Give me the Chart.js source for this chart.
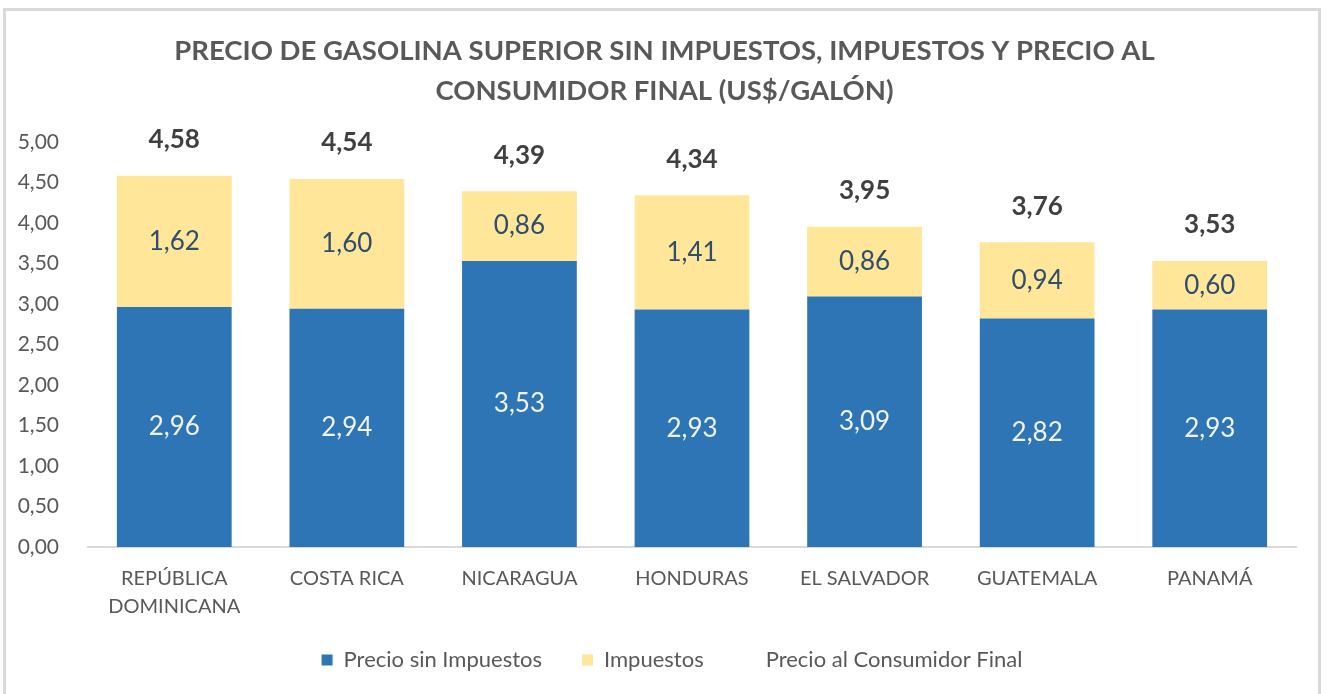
<!DOCTYPE html>
<html>
<head>
<meta charset="utf-8">
<script src="https://cdn.jsdelivr.net/npm/chart.js@4"></script>
<style>
    html, body { margin: 0; padding: 0; background: #fff; }
    #wrap { position: absolute; left: 0; top: 0; width: 1329px; height: 694px; }
    #frame { position: absolute; left: 3px; top: 8px; width: 1318px; height: 700px; border: 3px solid #D9D9D9; box-sizing: border-box; }
</style>
</head>
<body>
<div id="frame"></div>
<div id="wrap"><canvas id="chart"></canvas></div>
<script>
// Chart data
const countries = [['REPÚBLICA', 'DOMINICANA'], 'COSTA RICA', 'NICARAGUA', 'HONDURAS', 'EL SALVADOR', 'GUATEMALA', 'PANAMÁ'];
const precioSinImpuestos = [2.96, 2.94, 3.53, 2.93, 3.09, 2.82, 2.93];
const impuestos = [1.62, 1.60, 0.86, 1.41, 0.86, 0.94, 0.60];
const precioFinal = [4.58, 4.54, 4.39, 4.34, 3.95, 3.76, 3.53];

const FONT = 'Lato, "Open Sans", sans-serif';
const fmt = v => v.toFixed(2).replace('.', ',');

// Draws the value labels on the bars and the totals above them
const valueLabels = {
    id: 'valueLabels',
    afterLayout(chart) {
        // centre title on the whole picture and move legend down
        const t = chart.titleBlock;
        if (t) { t.left += 11.5; t.right += 11.5; }
        const lg = chart.legend;
        if (lg) {
            lg.left += 19; lg.right += 19;
            lg.top = 609; lg.bottom = 694;
        }
    },
    afterDatasetsDraw(chart) {
        const ctx = chart.ctx;
        ctx.save();
        ctx.textAlign = 'center';
        ctx.textBaseline = 'middle';
        chart.data.datasets.forEach((ds, i) => {
            const meta = chart.getDatasetMeta(i);
            meta.data.forEach((el, j) => {
                const v = ds.data[j];
                if (i === 2) {
                    ctx.font = 'bold 26px ' + FONT;
                    ctx.fillStyle = '#404040';
                    ctx.fillText(fmt(v), el.x, el.y - 36);
                } else {
                    ctx.font = '26px ' + FONT;
                    ctx.fillStyle = i === 0 ? '#F2F2F2' : '#2F4E6E';
                    ctx.fillText(fmt(v), el.x, (el.y + el.base) / 2);
                }
            });
        });
        ctx.restore();
    }
};

new Chart(document.getElementById('chart'), {
    type: 'bar',
    data: {
        labels: countries,
        datasets: [{
            label: 'Precio sin Impuestos',
            data: precioSinImpuestos,
            backgroundColor: '#2E75B6',
            stack: 'precio',
            categoryPercentage: 1,
            barPercentage: 0.665
        }, {
            label: 'Impuestos',
            data: impuestos,
            backgroundColor: '#FFE699',
            stack: 'precio',
            categoryPercentage: 1,
            barPercentage: 0.665
        }, {
            label: 'Precio al Consumidor Final',
            type: 'line',
            data: precioFinal,
            stack: 'total',
            showLine: false,
            pointRadius: 0,
            pointHoverRadius: 0,
            borderColor: 'rgba(0,0,0,0)',
            backgroundColor: 'rgba(0,0,0,0)'
        }]
    },
    options: {
        responsive: true,
        maintainAspectRatio: false,
        animation: false,
        layout: {
            padding: { top: 0, left: 10, right: 33, bottom: 14 }
        },
        scales: {
            x: {
                stacked: true,
                grid: { display: false, drawTicks: false },
                border: { display: true, color: '#D9D9D9', width: 2 },
                ticks: {
                    color: '#595959',
                    font: { family: FONT, size: 20, lineHeight: 1.4 },
                    padding: 18,
                    maxRotation: 0,
                    autoSkip: false
                },
                afterFit: scale => { scale.height = 93; }
            },
            y: {
                stacked: true,
                min: 0,
                max: 5,
                grid: { display: false },
                border: { display: false },
                ticks: {
                    stepSize: 0.5,
                    color: '#595959',
                    font: { family: FONT, size: 21 },
                    padding: 21,
                    callback: v => fmt(v)
                },
                afterFit: scale => { scale.width = 78; }
            }
        },
        plugins: {
            title: {
                display: true,
                text: ['PRECIO DE GASOLINA SUPERIOR SIN IMPUESTOS, IMPUESTOS Y PRECIO AL', 'CONSUMIDOR FINAL (US$/GALÓN)'],
                color: '#595959',
                font: { family: FONT, size: 27.5, weight: 'bold', lineHeight: 1.45 },
                padding: { top: 31, bottom: 31 }
            },
            legend: {
                position: 'bottom',
                maxHeight: 40,
                labels: {
                    color: '#595959',
                    font: { family: FONT, size: 22 },
                    boxWidth: 11,
                    boxHeight: 11,
                    padding: 40,
                    generateLabels: chart => chart.data.datasets.map((ds, i) => ({
                        text: ds.label,
                        fillStyle: i === 2 ? 'rgba(0,0,0,0)' : ds.backgroundColor,
                        strokeStyle: 'rgba(0,0,0,0)',
                        lineWidth: 0,
                        fontColor: '#595959',
                        datasetIndex: i
                    }))
                }
            },
            tooltip: { enabled: false }
        }
    },
    plugins: [valueLabels]
});
</script>
</body>
</html>
